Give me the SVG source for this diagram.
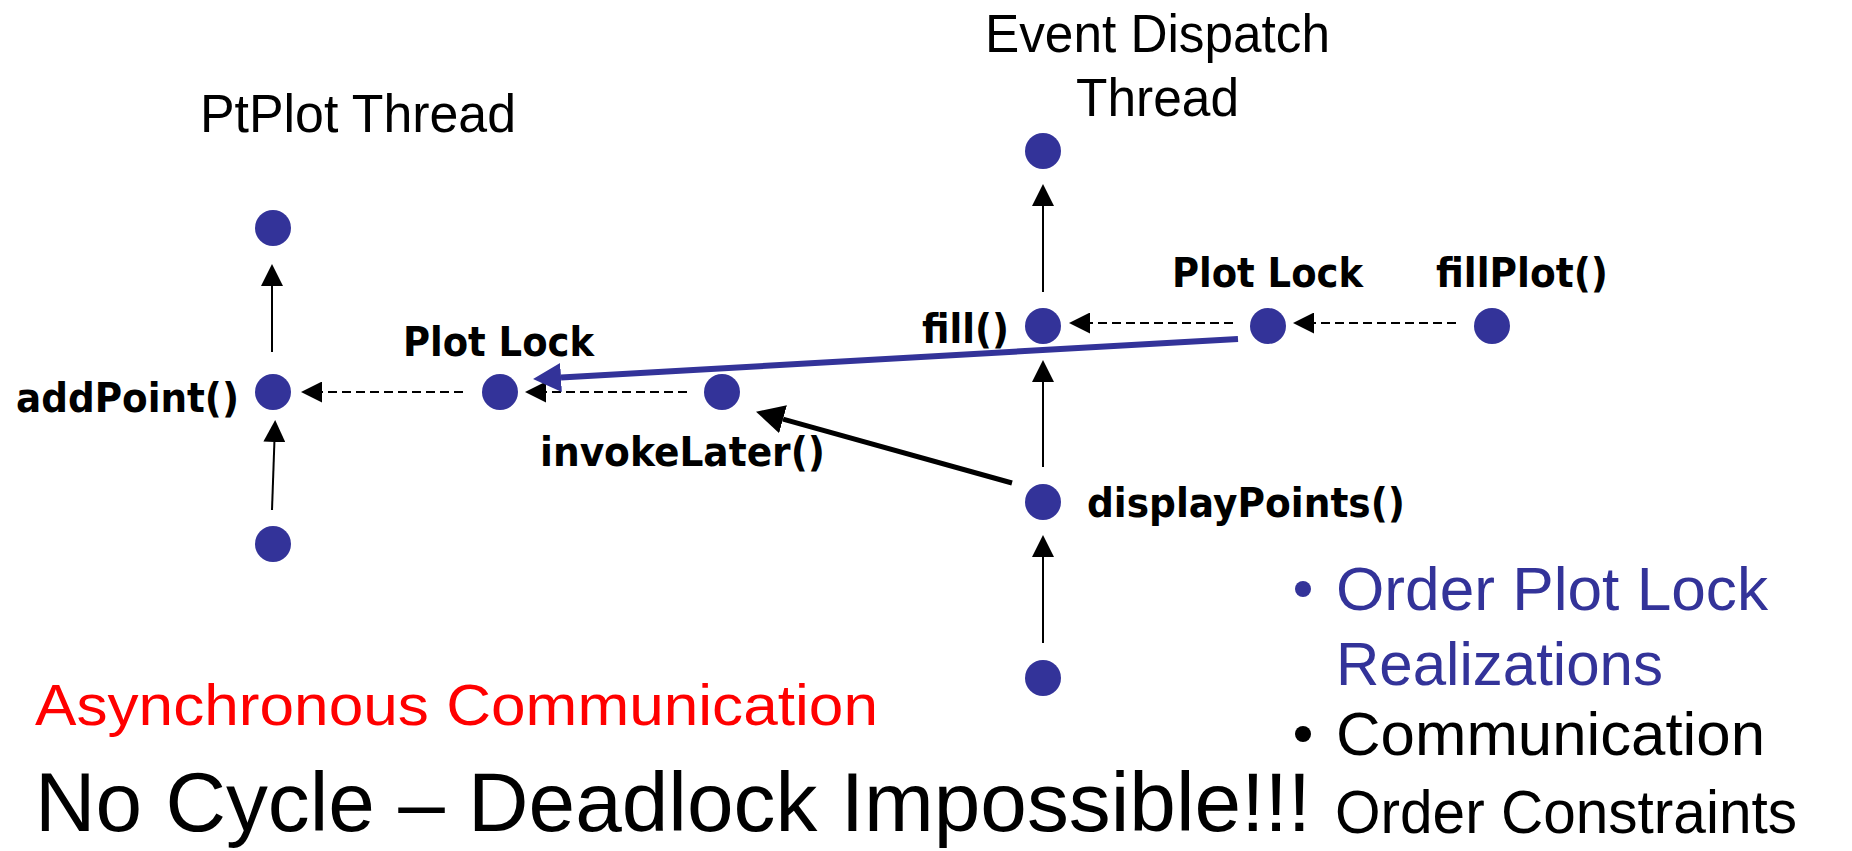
<svg xmlns="http://www.w3.org/2000/svg" width="1852" height="851" viewBox="0 0 1852 851">
  <style>
    .dot { fill: #333399; }
    .title { font-family: "Liberation Sans", Arial, sans-serif; font-size: 54px; fill: #000; }
    .label { font-family: "DejaVu Sans", "Liberation Sans", sans-serif; font-size: 40px; font-weight: bold; fill: #000; }
    .bullet { font-family: "Liberation Sans", Arial, sans-serif; font-size: 62px; }
    .note { font-family: "Liberation Sans", Arial, sans-serif; }
    .flow { stroke: #000; stroke-width: 2; fill: none; }
    .msg { stroke: #000; stroke-width: 2; stroke-dasharray: 9 5; fill: none; }
  </style>
  <defs>
    <marker id="head" markerUnits="userSpaceOnUse" markerWidth="22" markerHeight="22" refX="0" refY="11" orient="auto">
      <path d="M0,0 L22,11 L0,22 z" fill="#000"/>
    </marker>
    <marker id="head-dash" markerUnits="userSpaceOnUse" markerWidth="21" markerHeight="21" refX="0" refY="10.5" orient="auto">
      <path d="M0,0 L21,10.5 L0,21 z" fill="#000"/>
    </marker>
    <marker id="head-big" markerUnits="userSpaceOnUse" markerWidth="28" markerHeight="29" refX="0" refY="14.5" orient="auto">
      <path d="M0,0 L28,14.5 L0,29 z" fill="#000"/>
    </marker>
    <marker id="head-blue" markerUnits="userSpaceOnUse" markerWidth="28" markerHeight="29" refX="0" refY="14.5" orient="auto">
      <path d="M0,0 L28,14.5 L0,29 z" fill="#333399"/>
    </marker>
  </defs>

  <!-- thread headings -->
  <text class="title" x="200" y="132" textLength="316" lengthAdjust="spacingAndGlyphs">PtPlot Thread</text>
  <text class="title" x="985" y="52" textLength="345" lengthAdjust="spacingAndGlyphs">Event Dispatch</text>
  <text class="title" x="1076" y="116" textLength="163" lengthAdjust="spacingAndGlyphs">Thread</text>

  <!-- connectors -->
  <g id="connectors">
    <!-- PtPlot thread program order -->
    <line class="flow" x1="272" y1="352" x2="272" y2="286" marker-end="url(#head)"/>
    <line class="flow" x1="272" y1="510" x2="274.4" y2="442" marker-end="url(#head)"/>
    <!-- event dispatch thread program order -->
    <line class="flow" x1="1043" y1="292" x2="1043" y2="206" marker-end="url(#head)"/>
    <line class="flow" x1="1043" y1="467" x2="1043" y2="382" marker-end="url(#head)"/>
    <line class="flow" x1="1043" y1="643" x2="1043" y2="557" marker-end="url(#head)"/>
    <!-- lock / call dependencies -->
    <line class="msg" x1="463" y1="392" x2="322" y2="392" marker-end="url(#head-dash)"/>
    <line class="msg" x1="687" y1="392" x2="546" y2="392" marker-end="url(#head-dash)"/>
    <line class="msg" x1="1233" y1="323" x2="1090" y2="323" marker-end="url(#head-dash)"/>
    <line class="msg" x1="1456" y1="323" x2="1314" y2="323" marker-end="url(#head-dash)"/>
    <!-- asynchronous invokeLater -->
    <line x1="1012" y1="483" x2="783" y2="419.2" stroke="#000" stroke-width="5" marker-end="url(#head-big)"/>
    <!-- plot lock realization order -->
    <line x1="1238" y1="339" x2="561" y2="377.4" stroke="#333399" stroke-width="6" marker-end="url(#head-blue)"/>
  </g>

  <!-- PtPlot thread nodes -->
  <g id="pt-top"><circle class="dot" cx="273" cy="228" r="18"/></g>
  <g id="pt-addpoint">
    <circle class="dot" cx="273" cy="392" r="18"/>
    <text class="label" x="16" y="412" textLength="223" lengthAdjust="spacingAndGlyphs">addPoint()</text>
  </g>
  <g id="pt-bottom"><circle class="dot" cx="273" cy="544" r="18"/></g>
  <g id="plot-lock-left">
    <circle class="dot" cx="500" cy="392" r="18"/>
    <text class="label" x="403" y="356" textLength="191" lengthAdjust="spacingAndGlyphs">Plot Lock</text>
  </g>
  <g id="invoke-later">
    <circle class="dot" cx="722" cy="392" r="18"/>
    <text class="label" x="540" y="466" textLength="285" lengthAdjust="spacingAndGlyphs">invokeLater()</text>
  </g>

  <!-- event dispatch thread nodes -->
  <g id="edt-top"><circle class="dot" cx="1043" cy="151" r="18"/></g>
  <g id="edt-fill">
    <circle class="dot" cx="1043" cy="326" r="18"/>
    <text class="label" x="922" y="343" textLength="87" lengthAdjust="spacingAndGlyphs">fill()</text>
  </g>
  <g id="edt-display">
    <circle class="dot" cx="1043" cy="502" r="18"/>
    <text class="label" x="1087" y="517" textLength="318" lengthAdjust="spacingAndGlyphs">displayPoints()</text>
  </g>
  <g id="edt-bottom"><circle class="dot" cx="1043" cy="678" r="18"/></g>
  <g id="plot-lock-right">
    <circle class="dot" cx="1268" cy="326" r="18"/>
    <text class="label" x="1172" y="287" textLength="191" lengthAdjust="spacingAndGlyphs">Plot Lock</text>
  </g>
  <g id="fill-plot">
    <circle class="dot" cx="1492" cy="326" r="18"/>
    <text class="label" x="1436" y="287" textLength="172" lengthAdjust="spacingAndGlyphs">fillPlot()</text>
  </g>

  <!-- bullet list -->
  <circle cx="1303" cy="589" r="8" fill="#333399"/>
  <text class="bullet" x="1336" y="610" fill="#333399" textLength="432" lengthAdjust="spacingAndGlyphs">Order Plot Lock</text>
  <text class="bullet" x="1336" y="685" fill="#333399" textLength="327" lengthAdjust="spacingAndGlyphs">Realizations</text>
  <circle cx="1303" cy="734" r="8" fill="#000"/>
  <text class="bullet" x="1336" y="755" fill="#000" textLength="429" lengthAdjust="spacingAndGlyphs">Communication</text>
  <text class="bullet" x="1335" y="833" fill="#000" textLength="462" lengthAdjust="spacingAndGlyphs">Order Constraints</text>

  <!-- captions -->
  <text class="note" x="35" y="725" font-size="58" fill="#ff0000" textLength="843" lengthAdjust="spacingAndGlyphs">Asynchronous Communication</text>
  <text class="note" x="35" y="831" font-size="84" fill="#000" textLength="1276" lengthAdjust="spacingAndGlyphs">No Cycle – Deadlock Impossible!!!</text>
</svg>
